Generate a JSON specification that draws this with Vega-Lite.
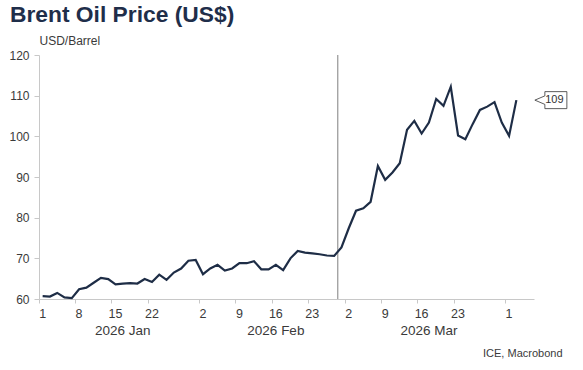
{
  "$schema": "https://vega.github.io/schema/vega-lite/v6.json",
  "width": 495,
  "height": 244,
  "autosize": {"type": "none"},
  "padding": {"left": 39, "top": 55, "right": 49, "bottom": 71},
  "background": "white",
  "title": {"text": "Brent Oil Price (US$)", "anchor": "start", "frame": "group", "dx": -29, "fontSize": 22.8, "font": "Liberation Sans", "fontWeight": "bold", "color": "#1f2e4a", "offset": 7},
  "config": {"view": {"stroke": null}, "font": "Liberation Sans"},
  "datasets": {
    "prices": [
      {"date": "2026-01-01", "value": 60.7},
      {"date": "2026-01-02", "value": 60.6},
      {"date": "2026-01-05", "value": 61.5},
      {"date": "2026-01-06", "value": 60.4},
      {"date": "2026-01-07", "value": 60.2},
      {"date": "2026-01-08", "value": 62.4},
      {"date": "2026-01-09", "value": 62.8},
      {"date": "2026-01-12", "value": 64.0},
      {"date": "2026-01-13", "value": 65.2},
      {"date": "2026-01-14", "value": 64.9},
      {"date": "2026-01-15", "value": 63.6},
      {"date": "2026-01-16", "value": 63.8},
      {"date": "2026-01-19", "value": 63.9},
      {"date": "2026-01-20", "value": 63.8},
      {"date": "2026-01-21", "value": 64.9},
      {"date": "2026-01-22", "value": 64.2},
      {"date": "2026-01-23", "value": 66.0},
      {"date": "2026-01-26", "value": 64.7},
      {"date": "2026-01-27", "value": 66.5},
      {"date": "2026-01-28", "value": 67.5},
      {"date": "2026-01-29", "value": 69.4},
      {"date": "2026-01-30", "value": 69.6},
      {"date": "2026-02-02", "value": 66.1},
      {"date": "2026-02-03", "value": 67.5},
      {"date": "2026-02-04", "value": 68.4},
      {"date": "2026-02-05", "value": 67.0},
      {"date": "2026-02-06", "value": 67.5},
      {"date": "2026-02-09", "value": 68.8},
      {"date": "2026-02-10", "value": 68.8},
      {"date": "2026-02-11", "value": 69.3},
      {"date": "2026-02-12", "value": 67.3},
      {"date": "2026-02-13", "value": 67.3},
      {"date": "2026-02-16", "value": 68.4},
      {"date": "2026-02-17", "value": 67.1},
      {"date": "2026-02-18", "value": 70.0},
      {"date": "2026-02-19", "value": 71.8},
      {"date": "2026-02-20", "value": 71.4},
      {"date": "2026-02-23", "value": 71.2},
      {"date": "2026-02-24", "value": 71.0},
      {"date": "2026-02-25", "value": 70.7},
      {"date": "2026-02-26", "value": 70.6},
      {"date": "2026-02-27", "value": 72.7},
      {"date": "2026-03-02", "value": 77.4},
      {"date": "2026-03-03", "value": 81.7},
      {"date": "2026-03-04", "value": 82.3},
      {"date": "2026-03-05", "value": 83.9},
      {"date": "2026-03-06", "value": 92.7},
      {"date": "2026-03-09", "value": 89.3},
      {"date": "2026-03-10", "value": 91.1},
      {"date": "2026-03-11", "value": 93.4},
      {"date": "2026-03-12", "value": 101.6},
      {"date": "2026-03-13", "value": 103.8},
      {"date": "2026-03-16", "value": 100.7},
      {"date": "2026-03-17", "value": 103.4},
      {"date": "2026-03-18", "value": 109.2},
      {"date": "2026-03-19", "value": 107.5},
      {"date": "2026-03-20", "value": 112.2},
      {"date": "2026-03-23", "value": 100.2},
      {"date": "2026-03-24", "value": 99.3},
      {"date": "2026-03-25", "value": 103.0},
      {"date": "2026-03-26", "value": 106.5},
      {"date": "2026-03-27", "value": 107.3},
      {"date": "2026-03-30", "value": 108.4},
      {"date": "2026-03-31", "value": 103.4},
      {"date": "2026-04-01", "value": 100.1},
      {"date": "2026-04-02", "value": 108.9}
    ],
    "marker": [{"date": "2026-02-27"}]
  },
  "layer": [
    {
      "data": {"name": "marker"},
      "mark": {"type": "rule", "color": "#7f7f7f", "strokeWidth": 1},
      "encoding": {
        "x": {
          "field": "date", "type": "ordinal", "bandPosition": 0,
          "scale": {"type": "band", "paddingInner": 0, "paddingOuter": 0.96, "align": 0},
          "axis": {
            "orient": "bottom",
            "values": ["2026-01-16", "2026-02-16", "2026-03-17"],
            "labelExpr": "datum.value == '2026-01-16' ? '2026 Jan' : datum.value == '2026-02-16' ? '2026 Feb' : '2026 Mar'",
            "bandPosition": 0,
            "ticks": false, "tickSize": 0, "domain": false, "grid": false,
            "labelPadding": 24, "labelFontSize": 13.5, "labelColor": "#3a3a3a", "labelAngle": 0,
            "title": "ICE, Macrobond", "titleX": 523, "titleY": 54, "titleAlign": "right", "titleBaseline": "middle",
            "titleFontSize": 11, "titleFontWeight": "normal", "titleColor": "#3a3a3a"
          }
        }
      }
    },
    {
      "data": {"name": "prices"},
      "mark": {"type": "line", "color": "#1e2d46", "strokeWidth": 2.2},
      "encoding": {
        "x": {
          "field": "date", "type": "ordinal", "bandPosition": 0.5,
          "scale": {"type": "band", "paddingInner": 0, "paddingOuter": 0.96, "align": 0},
          "axis": {
            "orient": "bottom",
            "values": ["2026-01-01", "2026-01-08", "2026-01-15", "2026-01-22", "2026-02-02", "2026-02-09", "2026-02-16", "2026-02-23", "2026-03-02", "2026-03-09", "2026-03-16", "2026-03-23", "2026-04-01"],
            "labelExpr": "toNumber(slice(datum.value, 8))",
            "bandPosition": 0,
            "labelAngle": 0, "labelFontSize": 12.5, "labelColor": "#3a3a3a", "labelPadding": 4,
            "tickSize": 4, "tickColor": "#c8c8c8", "domainColor": "#c8c8c8", "grid": false,
            "title": null
          }
        },
        "y": {
          "field": "value", "type": "quantitative",
          "scale": {"domain": [60, 120], "nice": false, "zero": false},
          "axis": {
            "orient": "left",
            "values": [60, 70, 80, 90, 100, 110, 120],
            "grid": false, "tickSize": 5, "labelPadding": 5, "labelFontSize": 12, "labelColor": "#3a3a3a",
            "tickColor": "#c8c8c8", "domainColor": "#c8c8c8",
            "title": "USD/Barrel", "titleAngle": 0, "titleAlign": "left", "titleX": 0, "titleY": -15,
            "titleBaseline": "middle", "titleFontSize": 12, "titleFontWeight": "normal", "titleColor": "#3a3a3a"
          }
        }
      }
    },
    {
      "data": {"name": "prices"},
      "transform": [{"filter": "datum.date == '2026-04-02'"}],
      "mark": {"type": "point", "shape": "M0.37,0L0.57,-0.085L0.57,-0.17L1.01,-0.17L1.01,0.17L0.57,0.17L0.57,0.085Z", "size": 10000, "filled": true, "fill": "white", "stroke": "#333333", "strokeWidth": 0.8, "opacity": 1},
      "encoding": {
        "x": {"field": "date", "type": "ordinal", "bandPosition": 0.5, "axis": null},
        "y": {"field": "value", "type": "quantitative", "axis": null}
      }
    },
    {
      "data": {"name": "prices"},
      "transform": [{"filter": "datum.date == '2026-04-02'"}],
      "mark": {"type": "text", "dx": 38, "fontSize": 11, "color": "#333333", "align": "center", "baseline": "middle"},
      "encoding": {
        "x": {"field": "date", "type": "ordinal", "bandPosition": 0.5, "axis": null},
        "y": {"field": "value", "type": "quantitative", "axis": null},
        "text": {"field": "value", "type": "quantitative", "format": ".0f"}
      }
    }
  ],
  "resolve": {"axis": {"x": "independent", "y": "independent"}}
}
